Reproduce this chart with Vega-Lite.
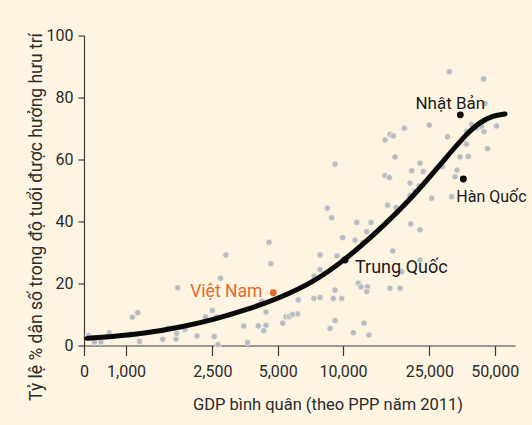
{
  "$schema": "https://vega.github.io/schema/vega-lite/v6.json",
  "width": 431,
  "height": 310,
  "autosize": "none",
  "padding": {"left": 84, "top": 35.5, "right": 17, "bottom": 79.5},
  "background": "#fdf5e2",
  "config": {
    "view": {"stroke": null},
    "font": "Roboto",
    "axis": {
      "grid": false,
      "domainColor": "#3a3a3a",
      "tickColor": "#3a3a3a",
      "domainWidth": 1.2,
      "tickWidth": 1.2,
      "labelFont": "Roboto",
      "titleFont": "Roboto",
      "labelFontSize": 16,
      "titleFontSize": 16,
      "labelColor": "#2a2a2a",
      "titleColor": "#2a2a2a",
      "titleFontWeight": "normal"
    }
  },
  "datasets": {
    "countries": [
      {"gdp": 670, "pct": 3.2}, {"gdp": 715, "pct": 1.1}, {"gdp": 766, "pct": 1.1}, {"gdp": 837, "pct": 4.1},
      {"gdp": 1043, "pct": 3.7}, {"gdp": 1069, "pct": 9.1}, {"gdp": 1132, "pct": 10.6}, {"gdp": 1153, "pct": 1.3},
      {"gdp": 1475, "pct": 2.0}, {"gdp": 1475, "pct": 4.8}, {"gdp": 1565, "pct": 5.6}, {"gdp": 1699, "pct": 2.1},
      {"gdp": 1712, "pct": 3.9}, {"gdp": 1730, "pct": 18.6}, {"gdp": 1869, "pct": 5.2}, {"gdp": 2123, "pct": 3.1},
      {"gdp": 2323, "pct": 9.2}, {"gdp": 2497, "pct": 11.3}, {"gdp": 2611, "pct": 9.2}, {"gdp": 2551, "pct": 2.9},
      {"gdp": 2653, "pct": 0.3}, {"gdp": 2725, "pct": 21.7}, {"gdp": 2883, "pct": 29.2}, {"gdp": 3488, "pct": 6.3},
      {"gdp": 3632, "pct": 1.0}, {"gdp": 4068, "pct": 6.3}, {"gdp": 4219, "pct": 14.3}, {"gdp": 4416, "pct": 10.8},
      {"gdp": 4416, "pct": 6.5}, {"gdp": 4309, "pct": 4.8}, {"gdp": 4559, "pct": 33.3}, {"gdp": 4646, "pct": 26.4},
      {"gdp": 5272, "pct": 7.2}, {"gdp": 5460, "pct": 9.3}, {"gdp": 5653, "pct": 9.3}, {"gdp": 6167, "pct": 10.2},
      {"gdp": 5848, "pct": 10.0}, {"gdp": 6220, "pct": 14.7}, {"gdp": 7346, "pct": 22.4}, {"gdp": 7831, "pct": 29.2},
      {"gdp": 7831, "pct": 24.5}, {"gdp": 9378, "pct": 28.9}, {"gdp": 7346, "pct": 15.2}, {"gdp": 7831, "pct": 15.5},
      {"gdp": 9182, "pct": 17.9}, {"gdp": 9019, "pct": 15.2}, {"gdp": 9859, "pct": 15.2}, {"gdp": 9182, "pct": 8.0},
      {"gdp": 8709, "pct": 5.5}, {"gdp": 12490, "pct": 7.2}, {"gdp": 11150, "pct": 4.1}, {"gdp": 13170, "pct": 3.4},
      {"gdp": 11760, "pct": 20.1}, {"gdp": 12100, "pct": 18.9}, {"gdp": 12940, "pct": 18.9}, {"gdp": 12850, "pct": 17.4},
      {"gdp": 16460, "pct": 18.5}, {"gdp": 18300, "pct": 18.5}, {"gdp": 16940, "pct": 30.5}, {"gdp": 18640, "pct": 23.8},
      {"gdp": 22620, "pct": 27.6}, {"gdp": 20500, "pct": 39.2}, {"gdp": 22620, "pct": 37.3}, {"gdp": 9963, "pct": 34.8},
      {"gdp": 11350, "pct": 34.0}, {"gdp": 12320, "pct": 33.2}, {"gdp": 12850, "pct": 36.7}, {"gdp": 11560, "pct": 39.7},
      {"gdp": 13460, "pct": 39.7}, {"gdp": 8462, "pct": 44.3}, {"gdp": 8867, "pct": 41.2}, {"gdp": 9182, "pct": 58.5},
      {"gdp": 16030, "pct": 45.3}, {"gdp": 17540, "pct": 44.5}, {"gdp": 15610, "pct": 54.8}, {"gdp": 16340, "pct": 54.2},
      {"gdp": 17360, "pct": 60.8}, {"gdp": 15610, "pct": 66.3}, {"gdp": 16460, "pct": 68.1}, {"gdp": 17050, "pct": 67.6},
      {"gdp": 19160, "pct": 70.1}, {"gdp": 24970, "pct": 71.1}, {"gdp": 30880, "pct": 88.3}, {"gdp": 44400, "pct": 86.0},
      {"gdp": 45110, "pct": 78.1}, {"gdp": 30290, "pct": 67.3}, {"gdp": 37140, "pct": 69.0}, {"gdp": 39160, "pct": 71.3},
      {"gdp": 41210, "pct": 70.2}, {"gdp": 43550, "pct": 70.6}, {"gdp": 44630, "pct": 69.0}, {"gdp": 50960, "pct": 70.8},
      {"gdp": 37060, "pct": 65.0}, {"gdp": 46320, "pct": 63.5}, {"gdp": 34580, "pct": 60.8}, {"gdp": 37770, "pct": 61.0},
      {"gdp": 22620, "pct": 58.8}, {"gdp": 20720, "pct": 56.4}, {"gdp": 23430, "pct": 56.1}, {"gdp": 33500, "pct": 56.6},
      {"gdp": 32800, "pct": 54.4}, {"gdp": 28670, "pct": 57.7}, {"gdp": 20350, "pct": 52.4}, {"gdp": 22390, "pct": 51.5},
      {"gdp": 20350, "pct": 48.5}, {"gdp": 21460, "pct": 49.8}, {"gdp": 25620, "pct": 47.5}, {"gdp": 31670, "pct": 48.0}
    ],
    "trend": [
      {"gdp": 661, "pct": 2.3}, {"gdp": 843, "pct": 2.8}, {"gdp": 1245, "pct": 4.0}, {"gdp": 1773, "pct": 5.9},
      {"gdp": 2524, "pct": 8.3}, {"gdp": 3597, "pct": 11.5}, {"gdp": 5122, "pct": 15.4}, {"gdp": 7293, "pct": 20.4},
      {"gdp": 10210, "pct": 27.6}, {"gdp": 14710, "pct": 37.3}, {"gdp": 21070, "pct": 48.0}, {"gdp": 30040, "pct": 60.9},
      {"gdp": 37140, "pct": 68.3}, {"gdp": 42770, "pct": 72.1}, {"gdp": 49110, "pct": 74.2}, {"gdp": 55770, "pct": 74.7}
    ],
    "named": [
      {"name": "Việt Nam", "gdp": 4771, "pct": 17.0, "hl": "vn"},
      {"name": "Trung Quốc", "gdp": 10210, "pct": 27.6, "hl": "other"},
      {"name": "Hàn Quốc", "gdp": 35830, "pct": 53.7, "hl": "other"},
      {"name": "Nhật Bản", "gdp": 34700, "pct": 74.4, "hl": "other"}
    ]
  },
  "encoding": {
    "x": {
      "field": "gdp", "type": "quantitative",
      "scale": {"type": "log", "domain": [640, 62000], "nice": false},
      "axis": {
        "title": "GDP bình quân (theo  PPP năm 2011)",
        "values": [640, 1000, 2500, 5000, 10000, 25000, 50000],
        "labelExpr": "datum.value < 700 ? '0' : format(datum.value, ',')",
        "labelFlush": false,
        "labelOverlap": false,
        "tickSize": 10,
        "labelBaseline": "alphabetic",
        "labelPadding": 21,
        "titleX": 243.5,
        "titleY": 63.5,
        "titleBaseline": "alphabetic",
        "titleFontSize": 16.5
      }
    },
    "y": {
      "field": "pct", "type": "quantitative",
      "scale": {"domain": [0, 100], "nice": false},
      "axis": {
        "title": "Tỷ lệ % dân số trong độ tuổi được hưởng hưu trí",
        "values": [0, 20, 40, 60, 80, 100],
        "tickSize": 6,
        "labelPadding": 5,
        "titleX": -43,
        "titleY": 181,
        "titleBaseline": "alphabetic",
        "titleAngle": -90,
        "titleFontSize": 17.5
      }
    }
  },
  "layer": [
    {
      "data": {"name": "countries"},
      "mark": {"type": "circle", "size": 40, "color": "#b8bcc5", "opacity": 1, "stroke": "#fdf5e2", "strokeWidth": 0.8}
    },
    {
      "data": {"name": "trend"},
      "mark": {"type": "line", "interpolate": "basis", "color": "#0a0a0a", "strokeWidth": 5, "strokeCap": "round"},
      "encoding": {}
    },
    {
      "data": {"name": "named"},
      "mark": {"type": "circle", "size": 48, "opacity": 1},
      "encoding": {
        "color": {"field": "hl", "type": "nominal", "scale": {"domain": ["vn", "other"], "range": ["#e4692b", "#0a0a0a"]}, "legend": null}
      }
    },
    {
      "data": {"name": "named"},
      "transform": [{"filter": "datum.name == 'Việt Nam'"}],
      "mark": {"type": "text", "align": "right", "baseline": "alphabetic", "dx": -11, "dy": 4, "fontSize": 17.5, "color": "#e4692b"},
      "encoding": {"text": {"field": "name"}}
    },
    {
      "data": {"name": "named"},
      "transform": [{"filter": "datum.name == 'Trung Quốc'"}],
      "mark": {"type": "text", "align": "left", "baseline": "alphabetic", "dx": 10, "dy": 13, "fontSize": 18, "color": "#1a1a1a"},
      "encoding": {"text": {"field": "name"}}
    },
    {
      "data": {"name": "named"},
      "transform": [{"filter": "datum.name == 'Hàn Quốc'"}],
      "mark": {"type": "text", "align": "left", "baseline": "alphabetic", "dx": -7, "dy": 23, "fontSize": 16, "color": "#1a1a1a"},
      "encoding": {"text": {"field": "name"}}
    },
    {
      "data": {"name": "named"},
      "transform": [{"filter": "datum.name == 'Nhật Bản'"}],
      "mark": {"type": "text", "align": "center", "baseline": "alphabetic", "dx": -10, "dy": -6, "fontSize": 17, "color": "#1a1a1a"},
      "encoding": {"text": {"field": "name"}}
    }
  ]
}
